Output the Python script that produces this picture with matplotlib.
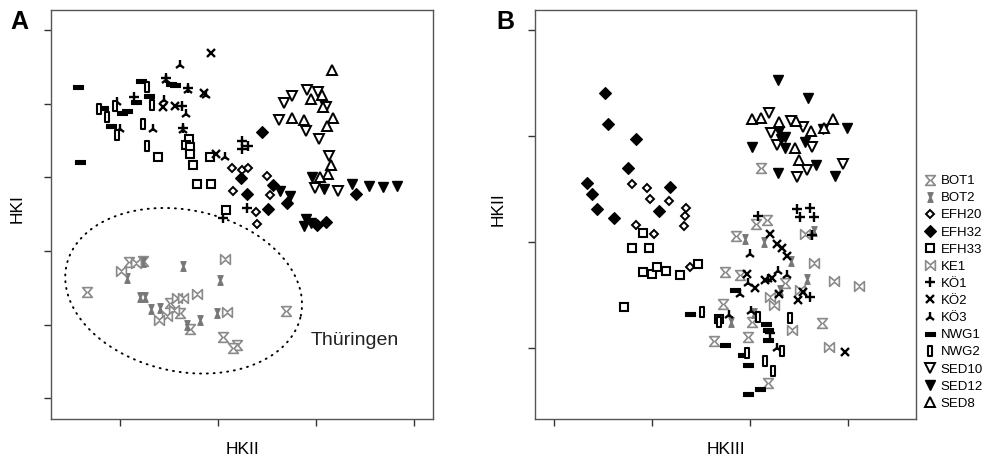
import matplotlib.pyplot as plt
import numpy as np
from matplotlib.path import Path

plt.rcParams['font.family'] = ['Liberation Sans', 'DejaVu Sans']

# ---------------- data: panel A (HKII vs HKI) ----------------
a_BOT1 = [(-1.33, -0.55), (-0.91, -0.15), (-0.49, -0.71), (-0.39, -0.84), (-0.29, -1.06),
          (0.69, -0.81), (0.05, -1.17), (0.19, -1.28), (0.15, -1.32), (-0.76, -0.13)]
a_BOT2 = [(-0.76, -0.15), (-0.93, -0.36), (-0.36, -0.20), (0.02, -0.40), (-0.79, -0.62),
          (-0.74, -0.63), (-0.68, -0.79), (-0.59, -0.78), (-0.32, -1.01), (-0.18, -0.94),
          (-0.01, -0.84)]
a_EFH20 = [(0.14, 1.12), (0.24, 1.10), (0.31, 1.13), (0.50, 1.02), (0.15, 0.81),
           (0.53, 0.76), (0.39, 0.53), (0.40, 0.37)]
a_EFH32 = [(0.45, 1.61), (0.23, 0.99), (0.30, 0.77), (0.56, 0.90), (0.70, 0.65),
           (0.51, 0.57), (1.01, 0.35), (1.10, 0.40), (1.41, 0.78)]
a_EFH33 = [(-0.61, 1.28), (-0.30, 1.52), (-0.33, 1.44), (-0.28, 1.41), (-0.28, 1.32),
           (-0.25, 1.17), (-0.08, 1.28), (-0.21, 0.91), (-0.07, 0.91), (0.08, 0.56)]
a_KE1 = [(-0.83, -0.16), (-0.99, -0.27), (0.07, -0.11), (-0.42, -0.64), (-0.36, -0.64),
         (-0.21, -0.58), (-0.45, -0.80), (-0.52, -0.88), (-0.60, -0.94), (0.09, -0.83)]
a_KO1 = [(-0.86, 2.09), (-0.37, 1.97), (-0.53, 2.35), (-0.31, 2.21), (-0.36, 1.67),
         (0.24, 1.49), (0.31, 1.43), (0.24, 1.38), (0.05, 0.45), (0.30, 0.58)]
a_KO2 = [(-0.07, 2.69), (-0.56, 1.96), (-0.44, 1.97), (-0.14, 2.15), (-0.02, 1.32)]
a_KO3 = [(-0.39, 2.53), (-1.03, 2.02), (-1.00, 1.65), (-0.55, 2.05), (-0.33, 1.86),
         (-0.66, 1.65), (0.07, 1.28), (-0.53, 2.32), (-0.31, 2.19), (-0.36, 1.64),
         (-0.12, 2.11)]
a_NWG1 = [(-1.43, 2.22), (-1.40, 1.21), (-1.17, 1.94), (-0.98, 1.87), (-0.93, 1.90),
          (-1.09, 1.70), (-0.78, 2.31), (-0.70, 2.10), (-0.83, 2.02), (-0.48, 2.26),
          (-0.44, 2.25)]
a_NWG2 = [(-1.21, 1.93), (-1.05, 1.97), (-1.13, 1.82), (-1.03, 1.57), (-0.72, 2.23),
          (-0.67, 1.98), (-0.76, 1.72), (-0.72, 1.43)]
a_SED10 = [(0.67, 2.01), (0.75, 2.10), (0.91, 2.19), (1.02, 2.16), (1.10, 1.96),
           (0.62, 1.78), (0.90, 1.63), (1.03, 1.52), (1.13, 1.29), (0.99, 0.85),
           (1.22, 0.81)]
a_SED12 = [(0.63, 0.81), (0.73, 0.75), (0.90, 0.44), (0.95, 0.38), (0.88, 0.34),
           (0.96, 1.01), (1.08, 0.84), (1.36, 0.91), (1.54, 0.88), (1.68, 0.87),
           (1.82, 0.88)]
a_SED8 = [(1.16, 2.46), (0.95, 2.06), (1.06, 2.11), (1.07, 1.95), (0.75, 1.80),
          (0.88, 1.78), (1.17, 1.80), (1.11, 1.70), (1.15, 1.17), (1.12, 1.05),
          (1.04, 1.00)]

# ---------------- data: panel B (HKIII vs HKII) ----------------
b_BOT1 = [(0.86, 0.06), (0.74, -0.28), (1.06, 0.17), (1.17, 0.21), (0.90, -0.31),
          (1.35, -0.39), (0.72, -0.58), (1.02, -0.75), (1.73, -0.76), (0.63, -0.93),
          (0.98, -0.90), (1.18, -1.33), (1.11, 0.70)]
b_BOT2 = [(0.95, 0.03), (1.14, 0.00), (1.42, -0.18), (1.65, 0.10), (1.58, -0.35),
          (1.30, -0.45), (0.80, -0.75), (1.04, -0.67)]
b_EFH20 = [(-0.20, 0.55), (-0.05, 0.51), (-0.02, 0.41), (0.17, 0.39), (0.35, 0.32),
           (0.34, 0.25), (0.33, 0.15), (-0.16, 0.16), (0.02, 0.08), (0.39, -0.24)]
b_EFH32 = [(-0.48, 1.41), (-0.45, 1.11), (-0.16, 0.97), (-0.24, 0.70), (-0.66, 0.56),
           (-0.61, 0.45), (-0.56, 0.31), (-0.39, 0.23), (0.18, 0.52), (0.07, 0.29)]
b_EFH33 = [(-0.09, 0.09), (-0.20, -0.06), (-0.03, -0.06), (-0.09, -0.28), (0.00, -0.30),
           (0.05, -0.24), (0.14, -0.27), (0.29, -0.31), (0.47, -0.21), (-0.29, -0.61),
           (0.68, -0.73)]
b_KE1 = [(1.56, 0.08), (1.65, -0.20), (1.85, -0.37), (2.11, -0.41), (1.20, -0.52),
         (1.24, -0.59), (1.51, -0.45), (1.43, -0.83), (1.80, -0.99)]
b_KO1 = [(1.48, 0.31), (1.61, 0.32), (1.51, 0.24), (1.65, 0.24), (1.08, 0.25),
         (1.63, 0.07), (1.61, -0.52), (1.20, -0.86)]
b_KO2 = [(1.20, 0.08), (1.27, -0.02), (1.32, -0.06), (1.37, -0.13), (0.97, -0.30),
         (1.05, -0.43), (1.22, -0.34), (1.15, -0.36), (1.29, -0.49), (1.54, -0.47),
         (1.49, -0.55), (1.97, -1.04)]
b_KO3 = [(1.00, -0.11), (0.98, -0.39), (1.18, -0.35), (1.28, -0.27), (1.37, -0.31),
         (0.90, -0.49), (0.78, -0.69), (1.01, -0.65), (1.27, -1.00)]
b_NWG1 = [(0.85, -0.45), (0.39, -0.68), (1.16, -0.77), (1.18, -0.83), (0.74, -0.97),
          (1.18, -0.92), (0.93, -1.07), (0.98, -1.16), (1.10, -1.39), (0.98, -1.43)]
b_NWG2 = [(0.51, -0.66), (0.68, -0.75), (1.08, -0.71), (1.41, -0.72), (1.32, -1.03),
          (0.97, -1.05), (1.15, -1.12), (1.23, -1.22)]
b_SED10 = [(1.19, 1.22), (1.42, 1.14), (1.54, 1.09), (1.21, 1.03), (1.27, 0.92),
           (1.63, 0.90), (1.58, 0.68), (1.48, 0.61), (1.94, 0.74)]
b_SED12 = [(1.28, 1.53), (1.59, 1.36), (1.74, 1.07), (1.99, 1.08), (1.29, 1.05),
           (1.31, 0.97), (1.35, 0.99), (1.35, 0.89), (1.56, 0.94), (1.02, 0.90),
           (1.67, 0.73), (1.28, 0.65), (1.86, 0.62)]
b_SED8 = [(1.02, 1.16), (1.11, 1.17), (1.29, 1.13), (1.47, 1.14), (1.62, 1.05),
          (1.75, 1.08), (1.84, 1.16), (1.46, 0.89), (1.50, 0.77)]

groups = ['BOT1', 'BOT2', 'EFH20', 'EFH32', 'EFH33', 'KE1', 'KÖ1', 'KÖ2', 'KÖ3',
          'NWG1', 'NWG2', 'SED10', 'SED12', 'SED8']
panel_a = [a_BOT1, a_BOT2, a_EFH20, a_EFH32, a_EFH33, a_KE1, a_KO1, a_KO2, a_KO3,
           a_NWG1, a_NWG2, a_SED10, a_SED12, a_SED8]
panel_b = [b_BOT1, b_BOT2, b_EFH20, b_EFH32, b_EFH33, b_KE1, b_KO1, b_KO2, b_KO3,
           b_NWG1, b_NWG2, b_SED10, b_SED12, b_SED8]

# custom marker shapes
hourglass = Path([(-1, 1), (1, 1), (0.15, 0), (1, -1), (-1, -1), (-0.15, 0), (-1, 1)], closed=True)
narrow_hg = Path([(-0.55, 1), (0.55, 1), (0.12, 0), (0.55, -1), (-0.55, -1), (-0.12, 0), (-0.55, 1)], closed=True)
bowtie = Path([(1, -1), (1, 1), (0, 0.15), (-1, 1), (-1, -1), (0, -0.15), (1, -1)], closed=True)
wide_bar = Path([(-1, -0.4), (1, -0.4), (1, 0.4), (-1, 0.4), (-1, -0.4)], closed=True)
tall_bar = Path([(-0.5, -1), (0.5, -1), (0.5, 1), (-0.5, 1), (-0.5, -1)], closed=True)

grey = '#8a8a8a'
styles = {
    'BOT1': dict(marker=hourglass, ms=7, mfc='white', mec=grey, mew=1.2),
    'BOT2': dict(marker=narrow_hg, ms=7, mfc='#777777', mec='#777777', mew=0.8),
    'EFH20': dict(marker='D', ms=4.5, mfc='white', mec='black', mew=1.4),
    'EFH32': dict(marker='D', ms=6, mfc='black', mec='black', mew=0.8),
    'EFH33': dict(marker='s', ms=5.6, mfc='white', mec='black', mew=1.5),
    'KE1': dict(marker=bowtie, ms=7, mfc='white', mec=grey, mew=1.2),
    'KÖ1': dict(marker='+', ms=7, mec='black', mew=1.7),
    'KÖ2': dict(marker='x', ms=5.6, mec='black', mew=1.7),
    'KÖ3': dict(marker='2', ms=7.5, mec='black', mew=1.7),
    'NWG1': dict(marker=wide_bar, ms=7.5, mfc='black', mec='black', mew=0.8),
    'NWG2': dict(marker=tall_bar, ms=7, mfc='white', mec='black', mew=1.5),
    'SED10': dict(marker='v', ms=7, mfc='white', mec='black', mew=1.4),
    'SED12': dict(marker='v', ms=7, mfc='black', mec='black', mew=1.0),
    'SED8': dict(marker='^', ms=7, mfc='white', mec='black', mew=1.4),
}

fig = plt.figure(figsize=(9.91, 4.63), dpi=100)
axA = fig.add_axes([0.0515, 0.095, 0.3855, 0.8834])
axB = fig.add_axes([0.540, 0.095, 0.3845, 0.8834])

handles = []
for name, pa, pb in zip(groups, panel_a, panel_b):
    st = styles[name]
    xa, ya = zip(*pa)
    xb, yb = zip(*pb)
    axA.plot(xa, ya, ls='none', **st)
    h, = axB.plot(xb, yb, ls='none', label=name, **st)
    handles.append(h)

# dotted ellipse around the Thüringen group (panel A)
t = np.linspace(0, 2 * np.pi, 200)
ang = np.deg2rad(-12)
u = 1.22 * np.cos(t)
v = 0.82 * np.sin(t)
ex = -0.35 + u * np.cos(ang) - v * np.sin(ang)
ey = -0.54 + (u * np.sin(ang) + v * np.cos(ang)) * 98.3 / 73.6
axA.plot(ex, ey, color='black', lw=1.4, ls=(0, (0.5, 3.0)), dash_capstyle='round')
axA.text(0.94, -1.21, 'Thüringen', fontsize=14, ha='left', va='center', color='#222222')

axA.set_xlim(-1.70, 2.19)
axA.set_ylim(-2.28, 3.27)
axA.set_xticks([-1, 0, 1, 2])
axA.set_yticks([-2, -1, 0, 1, 2, 3])
axB.set_xlim(-1.19, 2.69)
axB.set_ylim(-1.67, 2.19)
axB.set_xticks([-1, 0, 1, 2])
axB.set_yticks([-1, 0, 1, 2])

for ax, xl in [(axA, 'HKII'), (axB, 'HKIII')]:
    ax.set_xticklabels([])
    ax.set_yticklabels([])
    ax.tick_params(direction='out', length=5, width=1, color='#333333')
    for s in ax.spines.values():
        s.set_color('#555555')
        s.set_linewidth(1.0)
    ax.set_xlabel(xl, fontsize=12.5, labelpad=8)

fig.text(17 / 991, 1 - 209 / 463, 'HKI', rotation=90, fontsize=12.5, ha='center', va='center')
fig.text(498 / 991, 1 - 209 / 463, 'HKII', rotation=90, fontsize=12.5, ha='center', va='center')
fig.text(10 / 991, 1 - 22 / 463, 'A', fontsize=18, fontweight='bold', ha='left', va='center')
fig.text(496 / 991, 1 - 22 / 463, 'B', fontsize=18, fontweight='bold', ha='left', va='center')

fig.legend(handles=handles, loc='upper left', bbox_to_anchor=(925 / 991, 1 - 175 / 463),
           frameon=False, fontsize=9.5, handlelength=0.8, handletextpad=0.4,
           labelspacing=0.37, borderpad=0, borderaxespad=0)

fig.savefig('out.png', dpi=100)
